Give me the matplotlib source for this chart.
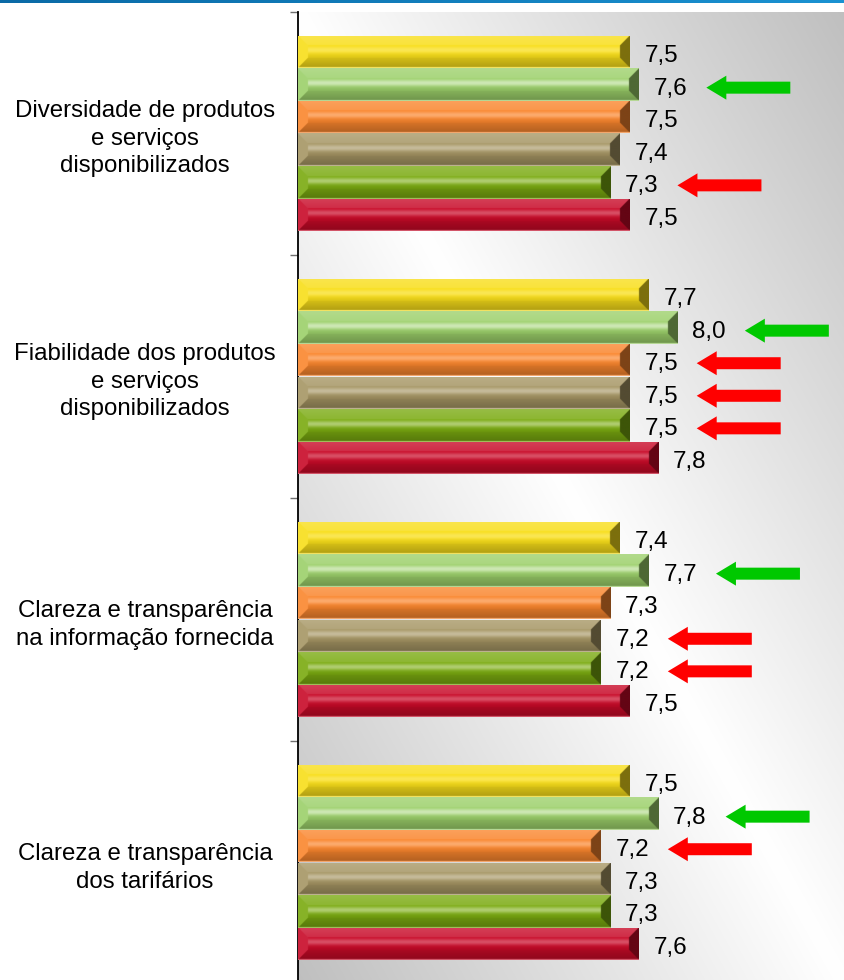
import numpy as np
import matplotlib
matplotlib.use("Agg")
import matplotlib.pyplot as plt
from matplotlib.colors import to_rgb
from matplotlib.patches import FancyArrow

# ---------------- data ----------------
categories = [
    "Diversidade de produtos\ne serviços\ndisponibilizados",
    "Fiabilidade dos produtos\ne serviços\ndisponibilizados",
    "Clareza e transparência\nna informação fornecida",
    "Clareza e transparência\ndos tarifários",
]
serie_amarela = [7.5, 7.7, 7.4, 7.5]
serie_verde_clara = [7.6, 8.0, 7.7, 7.8]
serie_laranja = [7.5, 7.5, 7.3, 7.2]
serie_caqui = [7.4, 7.5, 7.2, 7.3]
serie_verde = [7.3, 7.5, 7.2, 7.3]
serie_vermelha = [7.5, 7.8, 7.5, 7.6]
series = [serie_amarela, serie_verde_clara, serie_laranja,
          serie_caqui, serie_verde, serie_vermelha]
series_colors = ["#f8de1a", "#9cd06a", "#fa862e", "#a69664", "#7aaa10", "#c80a28"]
series_highlight = [0.25, 0.50, 0.30, 0.35, 0.40, 0.28]

# arrows: (category index, series index)
green_arrows = [(0, 1), (1, 1), (2, 1), (3, 1)]
red_arrows = [(0, 4), (1, 2), (1, 3), (1, 4), (2, 3), (2, 4), (3, 2)]

# ---------------- layout ----------------
W_PX, H_PX = 845, 980
fig = plt.figure(figsize=(W_PX / 100, H_PX / 100), dpi=100)
plt.rcParams["font.family"] = ["Liberation Sans", "DejaVu Sans"]

ax_left, ax_right = 298, 845
ax_top, ax_bot = 12, 984
ax = fig.add_axes([ax_left / W_PX, 1 - ax_bot / H_PX,
                   (ax_right - ax_left) / W_PX, (ax_bot - ax_top) / H_PX])

XMIN, XMAX = 4.06, 9.74
px_per_x = (ax_right - ax_left) / (XMAX - XMIN)
px_per_y = (ax_bot - ax_top) / 4.0
BAR_H = 0.134

# background gradient of plot area (diagonal, reflected)
gh, gw = 400, 240
vv, uu = np.mgrid[0:gh, 0:gw]
u = uu / (gw - 1)
v = vv / (gh - 1)
g = 1 - 0.25 * np.abs(u - v)
ax.imshow(np.dstack([g, g, g]), extent=(0, 1, 0, 1), transform=ax.transAxes,
          origin="upper", aspect="auto", zorder=0, interpolation="bilinear")

W = np.array([1.0, 1.0, 1.0])
K = np.array([0.0, 0.0, 0.0])


def mixc(c, t, target):
    t = np.asarray(t)[..., None] if np.ndim(t) else t
    return c * (1 - t) + target * t


def bar_image(base, hl, wpx, hpx, bevel=10, scale=2):
    base = np.array(to_rgb(base))
    Wd = max(int(wpx * scale), 4)
    Hd = max(int(hpx * scale), 4)
    yy, xx = np.mgrid[0:Hd, 0:Wd].astype(float)
    dt = yy + 0.5
    db = Hd - yy - 0.5
    dl = xx + 0.5
    dr = Wd - xx - 0.5
    d = np.stack([dt, db, dl, dr])
    region = np.argmin(d, axis=0)
    m = np.min(d, axis=0)
    b = bevel * scale
    B = np.broadcast_to(base, (Hd, Wd, 3))
    # face
    t = np.clip((yy - b) / max(Hd - 2 * b, 1), 0, 1)
    light = hl * np.exp(-((t - 0.35) / 0.25) ** 2)
    dark = 0.12 * np.clip((t - 0.5) / 0.5, 0, 1)
    img = mixc(mixc(B, light, W), dark, K).copy()
    tb = yy / max(b, 1)
    top = mixc(B, 0.22 - 0.08 * tb, W)
    bot = mixc(B, 0.15 + 0.15 * np.clip((yy - (Hd - b)) / b, 0, 1), K)
    left = mixc(B, 0.10, W)
    right = mixc(B, 0.50, K)
    bev = m < b
    for r, arr in enumerate((top, bot, left, right)):
        sel = bev & (region == r)
        img[sel] = arr[sel]
    # thin light edge at bottom
    img[-2:, :] = mixc(B[-2:, :], 0.35, W)
    return np.clip(img, 0, 1)


def fmt(v):
    return f"{v:.1f}".replace(".", ",")


bar_centers = {}
for s, (vals, col, hl) in enumerate(zip(series, series_colors, series_highlight)):
    ys = [k + 0.5 + (s - 2.5) * BAR_H for k in range(len(categories))]
    widths = [v - XMIN for v in vals]
    bars = ax.barh(ys, widths, left=XMIN, height=BAR_H, color=col,
                   edgecolor="none", zorder=2)
    for k, (rect, v, y) in enumerate(zip(bars, vals, ys)):
        bar_centers[(k, s)] = (v, y)
        img = bar_image(col, hl, (v - XMIN) * px_per_x, BAR_H * px_per_y)
        im = ax.imshow(img, extent=(XMIN, v, y + BAR_H / 2, y - BAR_H / 2),
                       origin="upper", aspect="auto", zorder=3,
                       interpolation="bilinear")
        im.set_clip_path(rect)
        ax.text(v + 15 / px_per_x, y + 4 / px_per_y, fmt(v), fontsize=17.5,
                ha="left", va="center", color="black", zorder=5)

# arrows
ARROW_OFF = 0.70
ARROW_LEN = 84 / px_per_x
for lst, acol in ((green_arrows, "#00c800"), (red_arrows, "#ff0000")):
    for (k, s) in lst:
        v, y = bar_centers[(k, s)]
        tip = v + ARROW_OFF
        ay = y + 3 / px_per_y
        ax.add_patch(FancyArrow(tip + ARROW_LEN, ay, -ARROW_LEN, 0,
                                width=12 / px_per_y, head_width=24 / px_per_y,
                                head_length=20 / px_per_x,
                                length_includes_head=True, color=acol,
                                linewidth=0, zorder=6))

# axes styling
ax.set_xlim(XMIN, XMAX)
ax.set_ylim(4, 0)
for sp in ("top", "right", "bottom"):
    ax.spines[sp].set_visible(False)
ax.spines["left"].set_color("black")
ax.spines["left"].set_linewidth(1.3)
ax.set_xticks([])
ax.set_yticks(np.arange(0, len(categories) + 1))
ax.set_yticklabels([])
ax.tick_params(axis="y", which="major", direction="out", length=6,
               width=1, color="#707070")
ax.set_yticks(np.arange(len(categories)) + 0.5, minor=True)
ax.set_yticklabels(categories, minor=True, fontsize=17.3, ha="center",
                   multialignment="center", linespacing=1.33)
ax.tick_params(axis="y", which="minor", length=0, pad=(ax_left - 145) * 0.72)

# blue top stripe
bax = fig.add_axes([0, 1 - 3 / H_PX, 1, 3 / H_PX])
grad = np.linspace(0, 1, 256)
c1 = np.array(to_rgb("#0a6aa6"))
c2 = np.array(to_rgb("#1a92d2"))
stripe = c1[None, :] * (1 - grad[:, None]) + c2[None, :] * grad[:, None]
bax.imshow(stripe[None, :, :], aspect="auto", extent=(0, 1, 0, 1))
bax.set_axis_off()

fig.savefig("out.png", dpi=100)
